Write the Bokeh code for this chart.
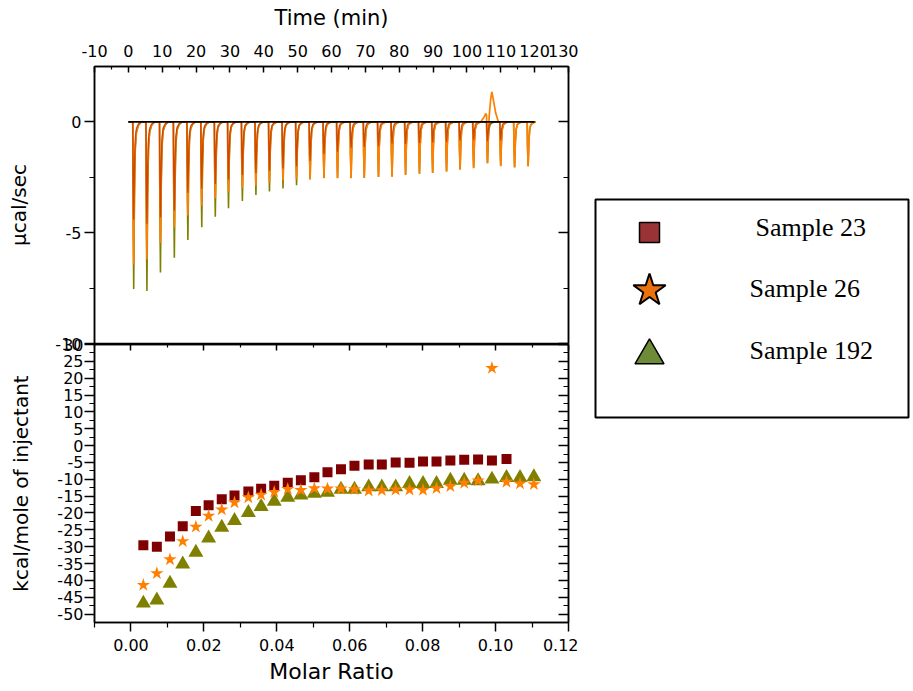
from bokeh.plotting import figure
from bokeh.models import Range1d, LinearAxis, FixedTicker, CustomJSTickFormatter, ColumnDataSource
from bokeh.layouts import column, row
from bokeh.embed import file_html
from bokeh.resources import INLINE
from bokeh.core.properties import value

# ---------------- data ----------------
series_names = ["Sample 23", "Sample 26", "Sample 192"]

# injection times (min) of the raw thermogram
inj_time = [1.3, 5.2, 9.2, 13.3, 17.3, 21.4, 25.4, 29.3, 33.4, 37.4,
            41.4, 45.4, 49.4, 53.4, 57.5, 61.5, 65.5, 69.4, 73.6, 77.6,
            81.6, 85.7, 89.6, 93.7, 97.7, 101.7, 105.8, 109.7, 113.8, 117.8]

# peak depth (ucal/sec, downward) of every injection
peak_23 = [4.4, 4.6, 4.3, 4.0, 3.2, 3.0, 2.8, 2.6, 2.4, 2.3,
           2.2, 2.1, 2.0, 1.75, 1.45, 1.35, 1.17, 1.13, 1.1, 0.97,
           1.0, 0.95, 0.93, 0.9, 0.84, 0.8, 0.87, 0.84]
peak_26 = [6.43, 6.20, 5.46, 4.75, 4.22, 3.78, 3.45, 3.18, 2.97, 2.88,
           2.74, 2.63, 2.59, 2.58, 2.54, 2.54, 2.54, 2.52, 2.49, 2.47,
           2.40, 2.35, 2.31, 2.25, 2.16, 2.09, 1.86, 2.00, 2.06, 2.01]
peak_192 = [7.54, 7.63, 6.80, 6.13, 5.33, 4.75, 4.28, 3.90, 3.57, 3.30,
            3.14, 3.00, 2.86, 2.60, 2.53, 2.53, 2.53, 2.53, 2.48, 2.46,
            2.38, 2.33, 2.29, 2.23, 2.14, 2.07, 1.86, 1.98, 2.04, 1.99]

# Sample 26, injection 27: dip followed by an exothermic excursion
anomaly_26_index = 26
anomaly_26_time = [104.3, 105.0, 105.6, 105.8, 105.9, 106.05, 106.3, 106.6, 107.0, 107.35, 107.8, 108.5, 109.3]
anomaly_26_power = [0.05, 0.2, 0.38, 0.3, -0.9, -1.86, -0.6, 0.3, 1.0, 1.36, 1.0, 0.4, 0.0]

baseline_time = [0.0, 120.0]
baseline_power = [0.0, 0.0]

# integrated heats
molar_ratio = [0.0034, 0.0071, 0.0107, 0.0142, 0.0178, 0.0213, 0.0249, 0.0284, 0.0322, 0.0357,
               0.0393, 0.0430, 0.0466, 0.0503, 0.0539, 0.0576, 0.0613, 0.0652, 0.0688, 0.0726,
               0.0764, 0.0801, 0.0838, 0.0876, 0.0914, 0.0952, 0.0990, 0.1030, 0.1067, 0.1105]
dh_23 = [-29.6, -30.0, -27.0, -23.9, -19.4, -17.7, -15.9, -14.8, -13.6, -12.8,
         -11.9, -11.0, -10.3, -9.4, -7.9, -7.0, -6.0, -5.6, -5.6, -5.0,
         -5.1, -4.7, -4.7, -4.4, -4.2, -4.1, -4.4, -4.0]
dh_26 = [-41.4, -37.9, -33.8, -28.4, -24.1, -20.9, -19.0, -16.9, -15.4, -14.6,
         -13.8, -12.9, -13.2, -12.7, -12.8, -12.8, -13.0, -13.4, -13.3, -13.1,
         -13.1, -13.2, -12.7, -12.1, -11.1, -10.4, 23.0, -10.8, -11.3, -11.5]
dh_192 = [-46.8, -45.9, -40.9, -35.2, -31.7, -27.5, -24.3, -22.3, -19.9, -18.1,
          -16.6, -15.4, -14.7, -14.2, -13.9, -13.0, -13.0, -12.3, -12.3, -12.3,
          -11.3, -11.3, -11.3, -10.3, -10.3, -10.5, -10.0, -9.5, -9.5, -9.3]

# ticks
time_ticks = [-10, 0, 10, 20, 30, 40, 50, 60, 70, 80, 90, 100, 110, 120, 130]
time_tick_labels = ["-10", "0", "10", "20", "30", "40", "50", "60", "70", "80", "90", "100", "110", "120", "130"]
time_minor_ticks = [-5, 5, 15, 25, 35, 45, 55, 65, 75, 85, 95, 105, 115, 125]
power_ticks = [0, -5, -10]
power_tick_labels = ["0", "-5", "-10"]
power_minor_ticks = [-2.5, -7.5]
enth_ticks = [30, 25, 20, 15, 10, 5, 0, -5, -10, -15, -20, -25, -30, -35, -40, -45, -50]
enth_tick_labels = ["30", "25", "20", "15", "10", "5", "0", "-5", "-10", "-15", "-20", "-25",
                    "-30", "-35", "-40", "-45", "-50"]
enth_minor_ticks = [27.5, 22.5, 17.5, 12.5, 7.5, 2.5, -2.5, -7.5, -12.5, -17.5, -22.5, -27.5,
                    -32.5, -37.5, -42.5, -47.5]
ratio_ticks = [0.0, 0.02, 0.04, 0.06, 0.08, 0.1, 0.12]
ratio_tick_labels = ["0.00", "0.02", "0.04", "0.06", "0.08", "0.10", "0.12"]
ratio_minor_ticks = [-0.01, 0.01, 0.03, 0.05, 0.07, 0.09, 0.11]

# ---------------- styles ----------------
C23, C26, C192 = "#7f0000", "#ff8000", "#808000"
LEG23, LEG26, LEG192 = "#9a3434", "#ea720e", "#6e8c38"
SANS = "DejaVu Sans"
SERIF = "Liberation Serif"
# spike profile (time offset, fraction of depth) used to draw each injection peak
SPIKE_DT = [0.0, 0.1, 0.28, 0.5, 0.75, 1.1, 1.7, 2.5]
SPIKE_FRAC = [0.0, 0.55, 1.0, 0.45, 0.16, 0.06, 0.02, 0.0]


def build_trace(times, depths, special=None):
    ts, vs = [0.0], [0.0]
    for i, (t, d) in enumerate(zip(times, depths)):
        if special is not None and i == special[0]:
            ts += list(special[1])
            vs += list(special[2])
        else:
            for dt, f in zip(SPIKE_DT, SPIKE_FRAC):
                ts.append(t + dt)
                vs.append(-d * f)
    ts.append(120.0)
    vs.append(0.0)
    return ts, vs


def blank_formatter():
    return CustomJSTickFormatter(code="return ''")


def style_common(p):
    p.xgrid.grid_line_color = None
    p.ygrid.grid_line_color = None
    p.outline_line_color = "black"
    p.outline_line_width = 1.5
    p.border_fill_alpha = 0
    p.background_fill_color = "white"


def style_axis(ax, ticks, minor, labels=None, tin=0, tout=10, min_in=0, min_out=5):
    ax.ticker = FixedTicker(ticks=ticks, minor_ticks=minor)
    if labels is None:
        ax.formatter = blank_formatter()
        ax.major_label_standoff = 0
    else:
        ax.major_label_overrides = {t: s for t, s in zip(ticks, labels)}
        ax.major_label_text_font = SANS
        ax.major_label_text_font_size = "16px"
        ax.major_label_text_color = "black"
    ax.major_tick_in = tin
    ax.major_tick_out = tout
    ax.minor_tick_in = min_in
    ax.minor_tick_out = min_out
    ax.axis_line_color = "black"
    ax.axis_line_width = 1.5
    ax.major_tick_line_width = 1.5
    ax.minor_tick_line_width = 1.2
    ax.major_tick_line_color = "black"
    ax.minor_tick_line_color = "black"
    ax.axis_label_text_font = SANS
    ax.axis_label_text_font_style = "normal"
    ax.axis_label_text_color = "black"


# ---------------- top panel: raw heat ----------------
top = figure(frame_width=474, frame_height=277,
             x_range=Range1d(-10, 130), y_range=Range1d(-10, 2.5),
             x_axis_location="above", y_axis_location="left",
             min_border_left=94, min_border_right=10, min_border_top=66, min_border_bottom=12,
             output_backend="svg", toolbar_location=None)
style_common(top)

xa = top.xaxis[0]
style_axis(xa, time_ticks, time_minor_ticks, time_tick_labels, tin=6, tout=0, min_in=3, min_out=0)
xa.major_label_standoff = 10
xa.axis_label = "Time (min)"
xa.axis_label_text_font_size = "21px"
xa.axis_label_standoff = 12

ya = top.yaxis[0]
style_axis(ya, power_ticks, power_minor_ticks, power_tick_labels, tin=0, tout=10, min_in=0, min_out=5)
ya.major_label_standoff = 3
ya.axis_label = "µcal/sec"
ya.axis_label_text_font_size = "20px"
ya.axis_label_standoff = 21

ra = LinearAxis()
style_axis(ra, power_ticks, power_minor_ticks, None, tin=10, tout=0, min_in=5, min_out=0)
top.add_layout(ra, "right")

t192, v192 = build_trace(inj_time, peak_192)
t26, v26 = build_trace(inj_time, peak_26, (anomaly_26_index, anomaly_26_time, anomaly_26_power))
t23, v23 = build_trace(inj_time[:len(peak_23)], peak_23)

top.line(t192, v192, line_color=C192, line_width=1.6)
top.line(t26, v26, line_color=C26, line_width=1.7)
top.line(t23, v23, line_color="#b02000", line_width=1.3, line_alpha=0.6)
top.line(baseline_time, baseline_power, line_color="black", line_width=1.6)

# ---------------- bottom panel: integrated heats ----------------
bot = figure(frame_width=474, frame_height=278,
             x_range=Range1d(-0.01, 0.12), y_range=Range1d(-52.5, 30),
             x_axis_location="below", y_axis_location="left",
             min_border_left=94, min_border_right=10, min_border_top=12, min_border_bottom=66,
             output_backend="svg", toolbar_location=None, margin=(-23, 0, 0, 0))
style_common(bot)

bx = bot.xaxis[0]
style_axis(bx, ratio_ticks, ratio_minor_ticks, ratio_tick_labels, tin=0, tout=9, min_in=0, min_out=5)
bx.major_label_standoff = 7
bx.axis_label = "Molar Ratio"
bx.axis_label_text_font_size = "22px"
bx.axis_label_standoff = 5

by = bot.yaxis[0]
style_axis(by, enth_ticks, enth_minor_ticks, enth_tick_labels, tin=0, tout=10, min_in=0, min_out=5)
by.major_label_standoff = 1
by.axis_label = "kcal/mole of injectant"
by.axis_label_text_font_size = "20px"
by.axis_label_standoff = 21

bta = LinearAxis()
style_axis(bta, ratio_ticks, ratio_minor_ticks, None, tin=6, tout=0, min_in=3, min_out=0)
bot.add_layout(bta, "above")

bra = LinearAxis()
style_axis(bra, enth_ticks, enth_minor_ticks, None, tin=10, tout=0, min_in=5, min_out=0)
bot.add_layout(bra, "right")

src23 = ColumnDataSource(dict(x=molar_ratio[:len(dh_23)], y=dh_23))
src26 = ColumnDataSource(dict(x=molar_ratio[:len(dh_26)], y=dh_26))
src192 = ColumnDataSource(dict(x=molar_ratio[:len(dh_192)], y=dh_192))

bot.scatter("x", "y", source=src192, marker="triangle", size=15, fill_color=C192, line_color=None)
bot.scatter("x", "y", source=src23, marker="square", size=10, fill_color=C23, line_color=None)
bot.scatter("x", "y", source=src26, marker="star", size=14, fill_color=C26, line_color=None)

# ---------------- legend panel ----------------
leg = figure(width=332, height=688, x_range=Range1d(580, 912), y_range=Range1d(689, 1),
             min_border=0, x_axis_location=None, y_axis_location=None,
             output_backend="svg", toolbar_location=None)
leg.xgrid.grid_line_color = None
leg.ygrid.grid_line_color = None
leg.outline_line_color = None
leg.border_fill_alpha = 0
leg.background_fill_alpha = 0

leg.quad(left=[597], right=[910], top=[200], bottom=[418], fill_color=None,
         line_color="black", line_width=2)
leg.scatter([651], [233], marker="square", size=20, fill_color=LEG23, line_color="black", line_width=1.5)
leg.scatter([651], [291], marker="star", size=34, fill_color=LEG26, line_color="black", line_width=2)
leg.scatter([651], [356], marker="triangle", size=29, fill_color=LEG192, line_color="black", line_width=1.5)
leg.text(x=[757, 751, 751], y=[228, 289, 351], text=series_names,
         text_font=value(SERIF), text_font_size="26px", text_color="black",
         text_align="left", text_baseline="middle")

layout = row(column(top, bot), leg)

open("out.html", "w").write(file_html(layout, INLINE))
